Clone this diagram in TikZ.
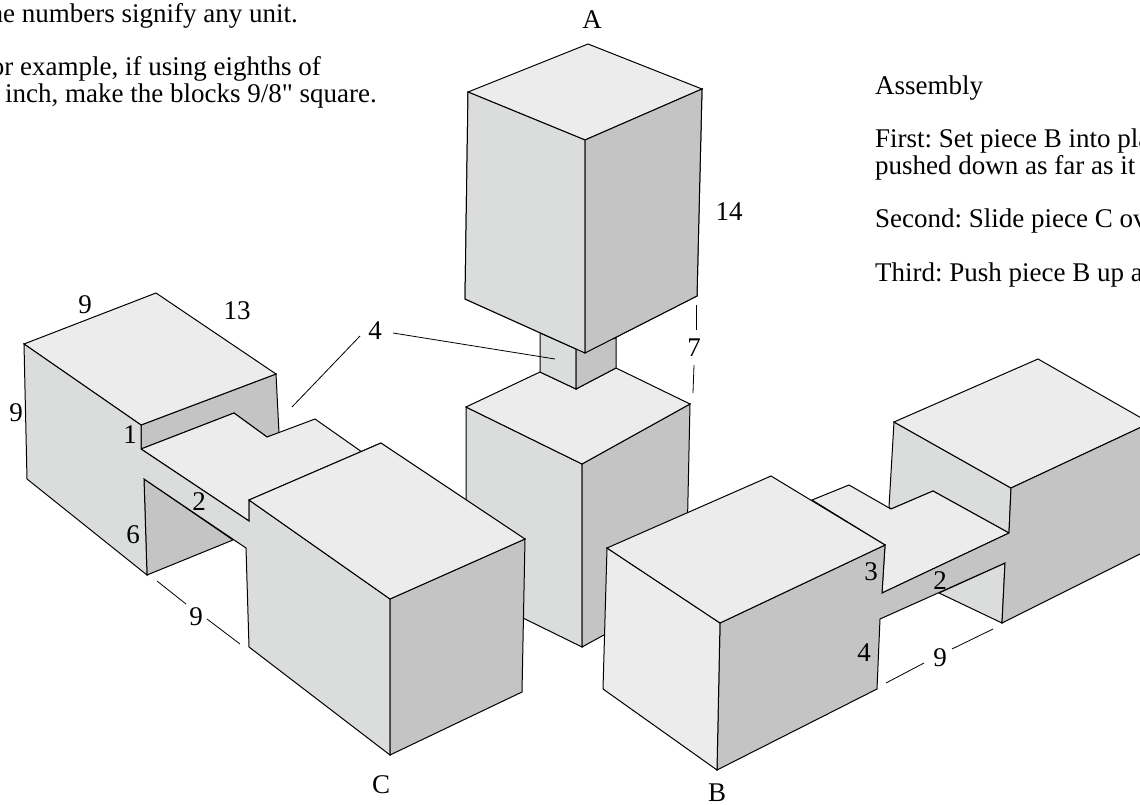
\documentclass[tikz,border=0pt]{standalone}
\usepackage{fontspec}
\setmainfont[Ligatures=TeXOff]{Liberation Serif}
\definecolor{ftop}{HTML}{ECECEC}
\definecolor{fside}{HTML}{DBDDDD}
\definecolor{fdark}{HTML}{C4C4C4}
\tikzset{
  top/.style={fill=ftop,draw=black,line width=1pt,line join=miter},
  side/.style={fill=fside,draw=black,line width=1pt,line join=miter},
  dark/.style={fill=fdark,draw=black,line width=1pt,line join=miter},
  lead/.style={draw=black,line width=0.8pt},
  lbl/.style={inner sep=0pt,font=\fontsize{27}{27}\selectfont},
  para/.style={inner sep=0pt,font=\fontsize{27}{27}\selectfont\frenchspacing}
}
\begin{document}
\begin{tikzpicture}[x=1pt,y=-1pt]
\useasboundingbox (0,0) rectangle (1140,805);
\fill[white] (0,0) rectangle (1140,805);
% Piece A upper
\filldraw[side] (468,92) -- (585,140) -- (585,353) -- (465,299) -- cycle;
\filldraw[dark] (585,140) -- (702,89) -- (697,296) -- (585,353) -- cycle;
\filldraw[top] (468,92) -- (588,44) -- (702,89) -- (585,140) -- cycle;
% Piece A lower
\filldraw[side] (466,407) -- (582,464) -- (582,647) -- (466,590) -- cycle;
\filldraw[dark] (582,464) -- (690,404) -- (686,590) -- (582,647) -- cycle;
\filldraw[top] (466,407) -- (540,372) -- (576,389) -- (616,368) -- (690,404) -- (582,464) -- cycle;
% neck
\filldraw[side] (540,333) -- (576,349) -- (576,389) -- (540,372) -- cycle;
\filldraw[dark] (576,349) -- (616,338) -- (616,368) -- (576,389) -- cycle;
\filldraw[side] (468,92) -- (585,140) -- (585,353) -- (465,299) -- cycle;
\filldraw[dark] (585,140) -- (702,89) -- (697,296) -- (585,353) -- cycle;
% Piece C
\filldraw[dark] (144,479) -- (147,575) -- (233,540) -- cycle;
\filldraw[dark] (141,425) -- (276,374) -- (279,433) -- (267,437) -- (234,413) -- (141,449) -- cycle;
\filldraw[top] (24,344) -- (156,293) -- (276,374) -- (141,425) -- cycle;
\filldraw[top] (141,449) -- (234,413) -- (267,437) -- (315,419) -- (362,452) -- (381,443) -- (249,500) -- (249,521) -- cycle;
\filldraw[side] (24,344) -- (141,425) -- (141,449) -- (249,521) -- (249,500) -- (390,599) -- (390,755) -- (249,647) -- (246,548) -- (144,479) -- (147,575) -- (27,479) -- cycle;
\filldraw[dark] (390,599) -- (525,539) -- (522,692) -- (390,755) -- cycle;
\filldraw[top] (249,500) -- (381,443) -- (525,539) -- (390,599) -- cycle;
% Piece B
\filldraw[side] (939,593) -- (1002,623) -- (1005,563) -- cycle;
\filldraw[side] (894,422) -- (1011,488) -- (1009,533) -- (933,491) -- (891,509) -- (889,507) -- cycle;
\filldraw[top] (885,545) -- (812,500) -- (849,485) -- (891,509) -- (933,491) -- (1009,533) -- (882,593) -- cycle;
\filldraw[top] (894,422) -- (1038,359) -- (1150,423) -- (1011,488) -- cycle;
\filldraw[dark] (720,623) -- (885,545) -- (882,593) -- (1009,533) -- (1011,488) -- (1150,423) -- (1150,549) -- (1002,623) -- (1005,563) -- (880,619) -- (877,689) -- (717,770) -- cycle;
\filldraw[top] (607,548) -- (720,623) -- (717,770) -- (603,689) -- cycle;
\filldraw[top] (607,548) -- (771,476) -- (885,545) -- (720,623) -- cycle;
% Labels
\node[lbl] (lA) at (592,20) {A};
\node[lbl] (lC) at (381,785) {C};
\node[lbl] (lB) at (717,793) {B};
\node[lbl] (n9a) at (85,305) {9};
\node[lbl] (n13) at (237,311) {13};
\node[lbl] (n9b) at (16,413) {9};
\node[lbl] (n1) at (130,435) {1};
\node[lbl] (n2a) at (199,502) {2};
\node[lbl] (n6) at (133,535) {6};
\node[lbl] (n4a) at (375,331) {4};
\node[lbl] (n14) at (729,212) {14};
\node[lbl] (n7) at (694,348) {7};
\node[lbl] (n9c) at (196,617) {9};
\node[lbl] (n3) at (871,572) {3};
\node[lbl] (n4b) at (864,653) {4};
\node[lbl] (n2b) at (940,581) {2};
\node[lbl] (n9d) at (940,658) {9};
% Leaders
\coordinate (a1) at (360,336); \coordinate (a2) at (292,407);
\coordinate (b1) at (393,333); \coordinate (b2) at (555,359);
\coordinate (c1) at (696,305); \coordinate (c2) at (696,330);
\coordinate (d1) at (694,365); \coordinate (d2) at (693,393);
\coordinate (e1) at (157,581); \coordinate (e2) at (186,604);
\coordinate (f1) at (207,619); \coordinate (f2) at (240,644);
\coordinate (g1) at (886,683); \coordinate (g2) at (924,663);
\coordinate (h1) at (952,649); \coordinate (h2) at (993,629);
\draw[lead] (a1) -- (a2);
\draw[lead] (b1) -- (b2);
\draw[lead] (c1) -- (c2);
\draw[lead] (d1) -- (d2);
\draw[lead] (e1) -- (e2);
\draw[lead] (f1) -- (f2);
\draw[lead] (g1) -- (g2);
\draw[lead] (h1) -- (h2);
% Text
\node[para,anchor=base east] (t1) at (298,23) {The numbers signify any unit.};
\node[para,anchor=base east] (t2) at (321,76) {For example, if using eighths of};
\node[para,anchor=base east] (t3) at (377,103) {an inch, make the blocks 9/8" square.};
\node[para,anchor=base west] (r1) at (875,95) {Assembly};
\node[para,anchor=base west] (r2) at (875,148) {First: Set piece B into pla};
\node[para,anchor=base west] (r3) at (875,175) {pushed down as far as it};
\node[para,anchor=base west] (r4) at (875,228) {Second: Slide piece C ov};
\node[para,anchor=base west] (r5) at (875,281) {Third: Push piece B up a};
\end{tikzpicture}
\end{document}
